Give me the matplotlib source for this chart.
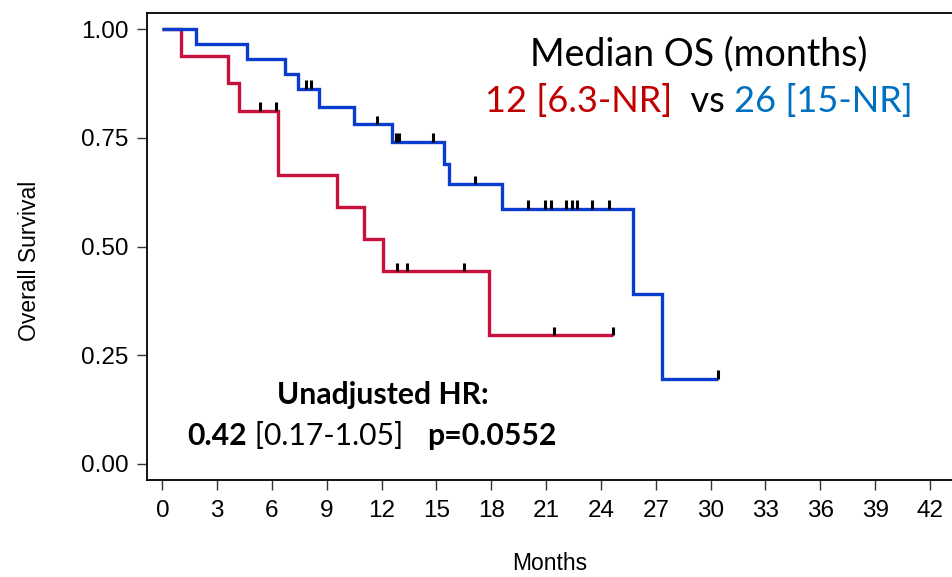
import numpy as np
import matplotlib
matplotlib.use("Agg")
import matplotlib.pyplot as plt
from matplotlib.offsetbox import TextArea, HPacker, AnnotationBbox

# Kaplan-Meier step data (months, survival probability)
red_times = [0.0, 1.0, 3.6, 4.2, 6.33, 9.54, 11.02, 12.07, 17.87]
red_surv = [1.0, 0.9375, 0.875, 0.8125, 0.665, 0.591, 0.517, 0.443, 0.2955]
red_end = 24.67
red_censor = [5.35, 6.22, 12.86, 13.37, 16.52, 21.44, 24.67]

blue_times = [0.0, 1.83, 4.65, 6.71, 7.44, 8.55, 10.51, 12.58, 15.42, 15.68, 18.57, 25.77, 27.32]
blue_surv = [1.0, 0.9655, 0.931, 0.8966, 0.862, 0.821, 0.781, 0.740, 0.690, 0.643, 0.586, 0.391, 0.196]
blue_end = 30.38
blue_censor = [7.86, 8.13, 11.74, 12.8, 12.95, 14.79, 17.1, 20.03, 20.94, 21.25,
               22.09, 22.40, 22.70, 23.52, 24.45, 30.38]

x_ticks = list(range(0, 43, 3))
y_ticks = [0.0, 0.25, 0.5, 0.75, 1.0]
y_tick_labels = ["0.00", "0.25", "0.50", "0.75", "1.00"]

RED_LINE = "#C8103C"
BLUE_LINE = "#0A3CCD"
RED_TEXT = "#C00000"
BLUE_TEXT = "#0070C0"

W, H = 953, 577
fig = plt.figure(figsize=(W / 100, H / 100), dpi=100)
ax = fig.add_axes([146.7 / W, (H - 480) / H, (W - 146.7) / W, (480 - 12.7) / H])

AXIS_FONT = ["Liberation Sans", "DejaVu Sans"]
NOTE_FONT = ["Lato", "DejaVu Sans"]


def km_step(ax, times, surv, end, censor, color):
    t = list(times) + [end]
    s = list(surv) + [surv[-1]]
    ax.step(t, s, where="post", color=color, lw=2.4, solid_joinstyle="miter",
            solid_capstyle="butt", zorder=3)
    idx = np.searchsorted(times, censor, side="right") - 1
    levels = np.asarray(surv)[idx]
    ax.vlines(censor, levels, levels + 0.02, color="black", lw=2.2, zorder=4)


km_step(ax, red_times, red_surv, red_end, red_censor, RED_LINE)
km_step(ax, blue_times, blue_surv, blue_end, blue_censor, BLUE_LINE)

ax.set_xlim(-0.855, 43.26)
ax.set_ylim(-0.0368, 1.0375)
ax.set_xticks(x_ticks)
ax.set_xticklabels([str(v) for v in x_ticks], family=AXIS_FONT, fontsize=17.5)
ax.set_yticks(y_ticks)
ax.set_yticklabels(y_tick_labels, family=AXIS_FONT, fontsize=17.5)
ax.tick_params(axis="both", direction="out", length=7.5, width=1.0, color="#333333")
ax.tick_params(axis="y", pad=5.5)
ax.tick_params(axis="x", pad=7)
for side in ("left", "top", "bottom"):
    ax.spines[side].set_linewidth(1.3)
    ax.spines[side].set_color("black")
ax.spines["right"].set_visible(False)

fig.text(30 / W, (H - 261) / H, "Overall Survival", rotation=90, ha="center",
         va="center", family=AXIS_FONT, fontsize=16.5)
fig.text(550 / W, (H - 563) / H, "Months", ha="center", va="center",
         family=AXIS_FONT, fontsize=16.5)


def rich_line(parts, size):
    boxes = [TextArea(txt, textprops=dict(color=col, fontsize=size, family=NOTE_FONT,
                                          fontweight=wt))
             for txt, col, wt in parts]
    return HPacker(children=boxes, align="baseline", pad=0, sep=0)


def place(box, px, py):
    ab = AnnotationBbox(box, (px / W, (H - py) / H), xycoords="figure fraction",
                        box_alignment=(0.5, 0.5), frameon=False, pad=0)
    fig.add_artist(ab)


# Median OS annotation
place(rich_line([("Median OS (months)", "black", "normal")], 27), 699, 54)
place(rich_line([("12 [6.3-NR]", RED_TEXT, "normal"),
                 ("  vs ", "black", "normal"),
                 ("26 [15-NR]", BLUE_TEXT, "normal")], 26), 699, 101)

# Hazard ratio annotation
place(rich_line([("Unadjusted HR:", "black", "bold")], 21.7), 383, 395)
place(rich_line([("0.42", "black", "bold"),
                 (" [0.17-1.05]   ", "black", "normal"),
                 ("p=0.0552", "black", "bold")], 21.7), 372, 436)

fig.savefig("out.png", dpi=100)
